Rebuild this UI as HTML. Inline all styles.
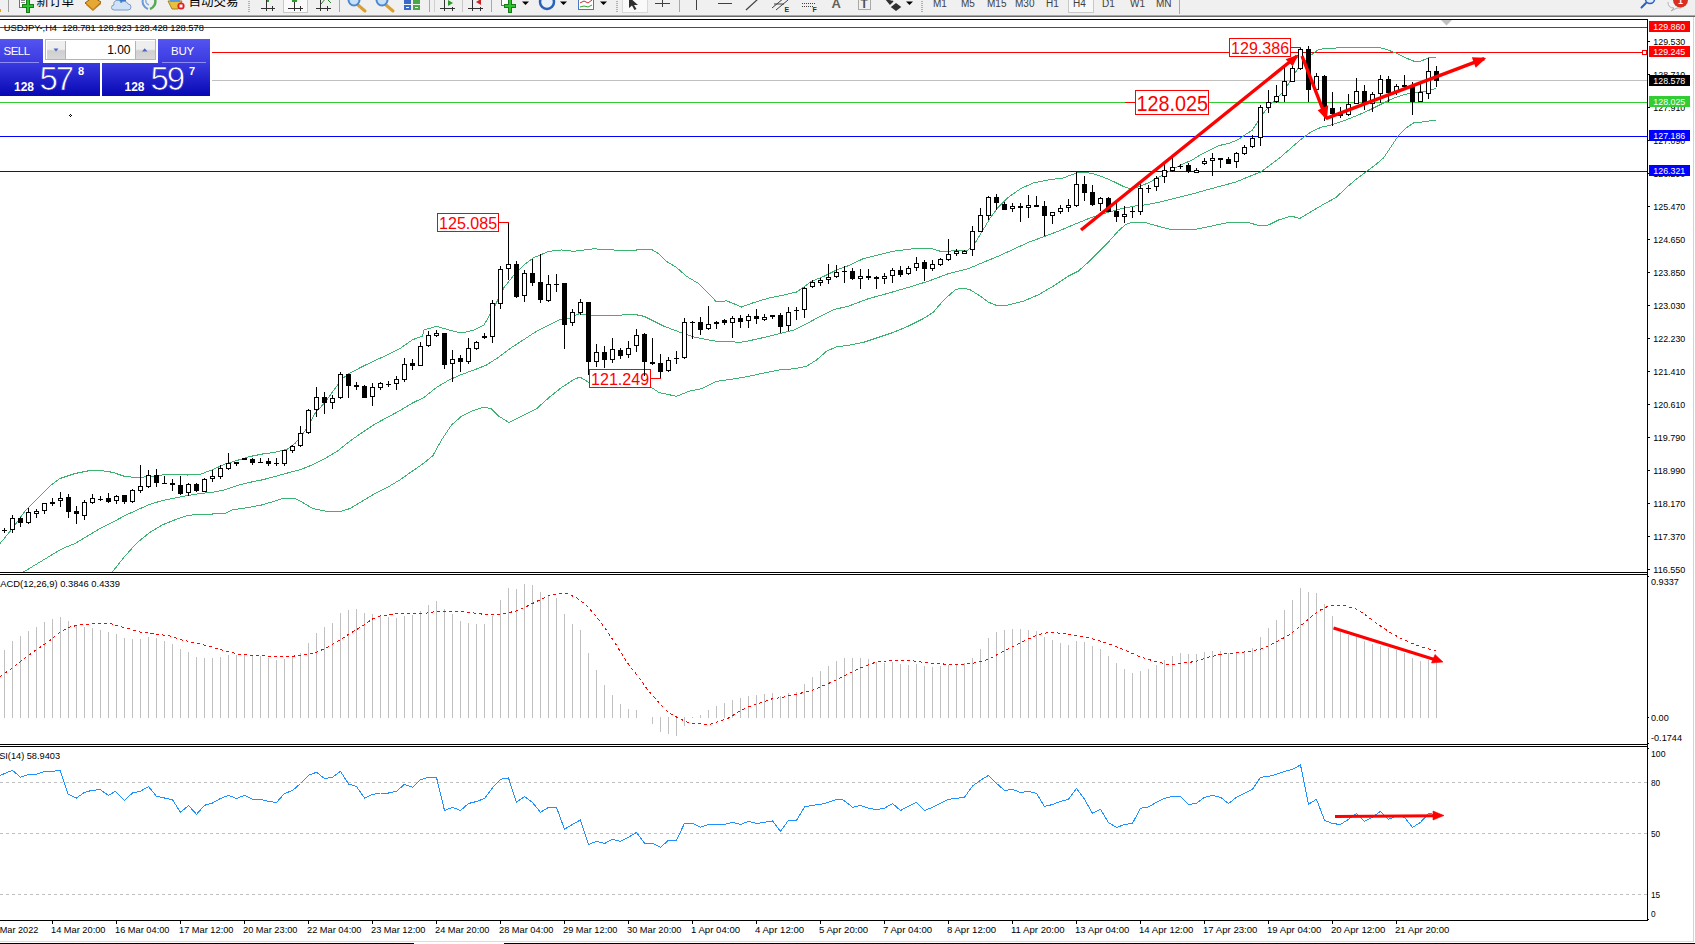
<!DOCTYPE html>
<html><head><meta charset="utf-8"><title>USDJPY H4</title>
<style>
html,body{margin:0;padding:0;background:#fff;}
body{width:1695px;height:944px;overflow:hidden;position:relative;font-family:"Liberation Sans","Noto Sans CJK SC",sans-serif;}
#chart{position:absolute;left:0;top:0;}
#tb{position:absolute;left:0;top:0;width:1695px;height:15px;background:#f0f0f0;overflow:hidden;}
#tbl1{position:absolute;left:0;top:15px;width:1695px;height:1px;background:#a8a8a8;}
#tbl2{position:absolute;left:0;top:16px;width:1695px;height:1px;background:#686868;}
</style></head><body>
<svg id="chart" width="1695" height="944" viewBox="0 0 1695 944">
<rect x="0" y="27" width="1647" height="1" fill="#ff0000"/>
<rect x="0" y="52" width="1647" height="1" fill="#ff0000"/>
<rect x="0" y="80" width="1647" height="1" fill="#c0c0c0"/>
<rect x="0" y="102" width="1647" height="1" fill="#32cd32"/>
<rect x="0" y="136" width="1647" height="1" fill="#0000ff"/>
<rect x="0" y="171" width="1647" height="1" fill="#0000ff"/>
<clipPath id="mc"><rect x="0" y="20" width="1647" height="552"/></clipPath>
<g shape-rendering="crispEdges" clip-path="url(#mc)">
<polyline points="0.0,543.5 12.5,528.5 25.0,511.0 37.5,498.5 50.0,486.0 60.0,478.5 75.0,473.5 87.5,471.0 100.0,470.5 112.5,472.3 125.0,476.5 137.5,477.5 150.0,476.5 162.5,475.0 175.0,474.3 187.5,475.0 200.0,474.3 212.5,469.8 225.0,464.0 237.5,460.3 250.0,456.5 262.5,454.0 275.0,452.3 287.5,449.0 295.0,443.5 305.0,431.0 315.0,413.5 325.0,402.3 335.0,388.5 342.5,378.5 350.0,373.0 362.5,366.5 375.0,360.5 387.5,354.8 400.0,348.5 412.5,339.8 422.5,336.0 424.0,330.0 436.5,326.3 449.0,330.0 461.5,333.0 474.0,330.0 484.0,325.0 494.0,307.5 504.0,287.5 514.0,275.0 524.0,265.0 534.0,257.5 549.0,251.3 561.5,250.0 574.0,251.3 594.0,248.8 614.0,250.0 636.5,250.0 651.5,249.5 659.0,253.8 666.5,261.3 676.5,267.5 686.5,276.3 699.0,283.8 709.0,293.8 716.5,302.0 726.5,300.8 734.0,303.8 741.5,307.0 754.0,302.5 769.0,298.0 784.0,295.0 796.5,292.0 804.0,287.0 811.5,281.3 824.0,276.3 836.5,270.0 848.0,265.8 863.0,258.8 878.0,255.0 893.0,251.3 913.0,248.8 930.5,248.3 940.5,251.3 958.0,250.8 968.0,250.0 975.5,242.5 983.0,230.0 990.5,217.5 998.0,207.5 1008.0,197.5 1020.5,188.8 1033.0,183.0 1048.0,180.0 1063.0,178.0 1075.5,173.3 1083.0,172.0 1093.0,173.8 1103.0,177.0 1113.0,181.3 1123.0,186.3 1130.5,188.8 1138.0,187.0 1148.0,183.0 1163.0,175.0 1178.0,166.3 1193.0,159.5 1200.0,155.0 1209.0,150.5 1219.0,145.6 1230.0,143.0 1238.6,139.4 1246.0,134.2 1252.0,130.5 1255.6,125.3 1259.3,118.6 1263.8,112.7 1271.2,103.8 1278.6,96.4 1284.5,90.4 1289.0,83.0 1293.4,75.6 1298.0,68.2 1303.8,62.2 1309.7,56.3 1314.2,52.6 1318.6,49.6 1324.6,48.5 1336.0,48.0 1351.0,47.3 1366.0,48.0 1378.5,47.3 1386.0,49.3 1396.0,53.0 1406.0,58.0 1413.5,61.0 1421.0,61.0 1428.5,58.0 1436.0,57.3" fill="none" stroke="#3cb371" stroke-width="1" />
<polyline points="0.0,585.0 23.8,571.8 37.5,563.5 50.0,556.0 62.5,548.5 75.0,543.5 87.5,536.0 100.0,528.5 112.5,522.3 125.0,515.5 137.5,509.8 150.0,504.3 162.5,500.5 175.0,498.0 187.5,495.5 200.0,493.5 212.5,492.3 225.0,489.8 237.5,485.5 250.0,482.3 262.5,479.8 275.0,476.5 287.5,473.0 300.0,469.8 312.5,464.8 325.0,458.5 337.5,451.0 350.0,441.0 362.5,432.3 375.0,424.0 387.5,417.3 400.0,410.5 412.5,403.0 424.0,397.4 436.5,387.5 449.0,380.0 461.5,374.5 474.0,370.0 486.5,365.0 499.0,357.0 511.5,347.5 524.0,339.5 536.5,331.3 549.0,325.0 559.0,320.0 569.0,318.3 579.0,313.8 589.0,315.0 599.0,315.8 614.0,315.5 634.0,314.3 644.0,316.3 654.0,321.3 664.0,326.3 674.0,330.0 684.0,333.8 694.0,337.0 706.5,339.5 716.5,341.3 729.0,341.3 739.0,342.5 749.0,340.8 761.5,338.0 779.0,333.8 794.0,330.0 806.5,323.8 819.0,317.0 834.0,309.5 848.0,306.3 868.0,298.8 888.0,293.3 908.0,287.5 928.0,281.3 948.0,273.8 968.0,268.8 983.0,262.5 998.0,256.3 1013.0,249.5 1028.0,242.5 1043.0,237.0 1058.0,231.3 1073.0,225.0 1088.0,218.8 1103.0,213.8 1118.0,209.5 1133.0,206.3 1148.0,204.5 1163.0,201.3 1178.0,197.5 1193.0,193.8 1208.0,189.5 1223.0,185.5 1236.0,182.0 1248.5,176.8 1261.0,171.8 1271.0,164.3 1281.0,156.8 1291.0,148.0 1301.0,139.3 1311.0,131.8 1321.0,127.3 1331.0,125.0 1341.0,121.8 1351.0,118.0 1361.0,113.8 1371.0,109.3 1381.0,104.3 1391.0,99.3 1401.0,95.5 1411.0,93.0 1421.0,91.8 1428.5,90.5 1436.0,88.5" fill="none" stroke="#3cb371" stroke-width="1" />
<polyline points="104.0,585.0 112.5,571.8 125.0,556.0 137.5,542.3 150.0,532.3 162.5,524.8 175.0,519.8 187.5,515.5 200.0,514.0 212.5,514.0 225.0,513.5 232.5,509.8 250.0,507.3 262.5,504.8 275.0,501.0 282.5,498.5 295.0,498.5 302.5,502.3 312.5,508.5 325.0,511.0 340.0,511.8 350.0,508.5 362.5,501.0 375.0,493.5 387.5,487.3 400.0,479.8 412.5,471.0 424.0,463.0 432.8,455.8 441.5,440.0 451.5,425.0 461.5,416.3 471.5,411.3 484.0,407.0 491.5,408.8 499.0,416.3 509.0,422.5 524.0,415.0 536.5,408.8 549.0,397.5 561.5,387.5 574.0,379.5 580.0,377.0 589.0,382.5 600.0,384.0 625.0,386.0 651.5,387.5 659.0,392.5 676.5,396.3 689.0,391.3 701.5,388.8 716.5,381.3 734.0,378.8 749.0,376.3 764.0,373.0 779.0,370.0 794.0,368.8 806.5,366.3 816.5,360.0 826.5,351.3 836.5,346.8 848.0,345.4 863.0,342.5 878.0,337.5 893.0,332.5 908.0,326.3 923.0,318.8 933.0,312.5 940.5,303.8 948.0,296.3 955.5,289.5 963.0,288.0 970.5,290.0 980.5,296.3 988.0,302.0 995.5,305.0 1008.0,305.0 1023.0,301.3 1038.0,295.0 1053.0,286.3 1068.0,276.3 1078.0,271.3 1088.0,262.5 1098.0,252.5 1108.0,242.5 1118.0,231.3 1125.5,224.5 1133.0,222.0 1143.0,222.0 1155.5,225.5 1170.5,229.3 1195.5,229.3 1210.5,226.3 1228.0,222.5 1236.0,222.7 1248.5,222.5 1258.5,225.5 1268.5,225.0 1278.5,220.0 1291.0,216.0 1299.8,218.5 1311.0,211.8 1323.5,204.3 1336.0,197.5 1346.0,188.0 1356.0,179.3 1366.0,171.8 1376.0,164.3 1383.5,158.0 1391.0,146.8 1398.5,135.5 1406.0,128.0 1413.5,123.0 1423.5,121.8 1436.0,120.0" fill="none" stroke="#3cb371" stroke-width="1" />
</g>
<g shape-rendering="crispEdges">
<rect x="4" y="528" width="1" height="5" fill="#000"/>
<rect x="2" y="530" width="5" height="1" fill="#000"/>
<rect x="12" y="515" width="1" height="18" fill="#000"/>
<rect x="10" y="518" width="5" height="12" fill="#000"/>
<rect x="11" y="519" width="3" height="10" fill="#fff"/>
<rect x="20" y="517" width="1" height="10" fill="#000"/>
<rect x="18" y="518" width="5" height="5" fill="#000"/>
<rect x="28" y="508" width="1" height="16" fill="#000"/>
<rect x="26" y="512" width="5" height="11" fill="#000"/>
<rect x="27" y="513" width="3" height="9" fill="#fff"/>
<rect x="36" y="509" width="1" height="9" fill="#000"/>
<rect x="34" y="511" width="5" height="3" fill="#000"/>
<rect x="35" y="512" width="3" height="1" fill="#fff"/>
<rect x="44" y="503" width="1" height="11" fill="#000"/>
<rect x="42" y="503" width="5" height="8" fill="#000"/>
<rect x="43" y="504" width="3" height="6" fill="#fff"/>
<rect x="52" y="498" width="1" height="8" fill="#000"/>
<rect x="50" y="502" width="5" height="2" fill="#000"/>
<rect x="60" y="492" width="1" height="15" fill="#000"/>
<rect x="58" y="498" width="5" height="3" fill="#000"/>
<rect x="59" y="499" width="3" height="1" fill="#fff"/>
<rect x="68" y="494" width="1" height="24" fill="#000"/>
<rect x="66" y="497" width="5" height="15" fill="#000"/>
<rect x="76" y="506" width="1" height="18" fill="#000"/>
<rect x="74" y="511" width="5" height="3" fill="#000"/>
<rect x="84" y="500" width="1" height="20" fill="#000"/>
<rect x="82" y="502" width="5" height="14" fill="#000"/>
<rect x="83" y="503" width="3" height="12" fill="#fff"/>
<rect x="92" y="494" width="1" height="10" fill="#000"/>
<rect x="90" y="498" width="5" height="5" fill="#000"/>
<rect x="91" y="499" width="3" height="3" fill="#fff"/>
<rect x="100" y="496" width="1" height="5" fill="#000"/>
<rect x="98" y="499" width="5" height="1" fill="#000"/>
<rect x="108" y="493" width="1" height="10" fill="#000"/>
<rect x="106" y="498" width="5" height="4" fill="#000"/>
<rect x="116" y="495" width="1" height="9" fill="#000"/>
<rect x="114" y="496" width="5" height="5" fill="#000"/>
<rect x="115" y="497" width="3" height="3" fill="#fff"/>
<rect x="124" y="495" width="1" height="9" fill="#000"/>
<rect x="122" y="495" width="5" height="7" fill="#000"/>
<rect x="132" y="489" width="1" height="14" fill="#000"/>
<rect x="130" y="490" width="5" height="12" fill="#000"/>
<rect x="131" y="491" width="3" height="10" fill="#fff"/>
<rect x="140" y="465" width="1" height="28" fill="#000"/>
<rect x="138" y="486" width="5" height="5" fill="#000"/>
<rect x="139" y="487" width="3" height="3" fill="#fff"/>
<rect x="148" y="470" width="1" height="18" fill="#000"/>
<rect x="146" y="475" width="5" height="12" fill="#000"/>
<rect x="147" y="476" width="3" height="10" fill="#fff"/>
<rect x="156" y="469" width="1" height="18" fill="#000"/>
<rect x="154" y="475" width="5" height="8" fill="#000"/>
<rect x="164" y="476" width="1" height="8" fill="#000"/>
<rect x="162" y="483" width="5" height="1" fill="#000"/>
<rect x="172" y="479" width="1" height="12" fill="#000"/>
<rect x="170" y="483" width="5" height="2" fill="#000"/>
<rect x="180" y="476" width="1" height="19" fill="#000"/>
<rect x="178" y="485" width="5" height="9" fill="#000"/>
<rect x="188" y="483" width="1" height="13" fill="#000"/>
<rect x="186" y="484" width="5" height="9" fill="#000"/>
<rect x="187" y="485" width="3" height="7" fill="#fff"/>
<rect x="196" y="483" width="1" height="9" fill="#000"/>
<rect x="194" y="484" width="5" height="7" fill="#000"/>
<rect x="204" y="478" width="1" height="14" fill="#000"/>
<rect x="202" y="479" width="5" height="13" fill="#000"/>
<rect x="203" y="480" width="3" height="11" fill="#fff"/>
<rect x="212" y="470" width="1" height="12" fill="#000"/>
<rect x="210" y="476" width="5" height="3" fill="#000"/>
<rect x="211" y="477" width="3" height="1" fill="#fff"/>
<rect x="220" y="465" width="1" height="14" fill="#000"/>
<rect x="218" y="468" width="5" height="9" fill="#000"/>
<rect x="219" y="469" width="3" height="7" fill="#fff"/>
<rect x="228" y="453" width="1" height="17" fill="#000"/>
<rect x="226" y="463" width="5" height="6" fill="#000"/>
<rect x="227" y="464" width="3" height="4" fill="#fff"/>
<rect x="236" y="462" width="1" height="4" fill="#000"/>
<rect x="234" y="462" width="5" height="2" fill="#000"/>
<rect x="244" y="458" width="1" height="2" fill="#000"/>
<rect x="242" y="458" width="5" height="2" fill="#000"/>
<rect x="252" y="458" width="1" height="7" fill="#000"/>
<rect x="250" y="459" width="5" height="4" fill="#000"/>
<rect x="260" y="458" width="1" height="5" fill="#000"/>
<rect x="258" y="462" width="5" height="1" fill="#000"/>
<rect x="268" y="458" width="1" height="8" fill="#000"/>
<rect x="266" y="461" width="5" height="3" fill="#000"/>
<rect x="276" y="458" width="1" height="8" fill="#000"/>
<rect x="274" y="463" width="5" height="1" fill="#000"/>
<rect x="284" y="450" width="1" height="16" fill="#000"/>
<rect x="282" y="450" width="5" height="14" fill="#000"/>
<rect x="283" y="451" width="3" height="12" fill="#fff"/>
<rect x="292" y="445" width="1" height="8" fill="#000"/>
<rect x="290" y="446" width="5" height="5" fill="#000"/>
<rect x="291" y="447" width="3" height="3" fill="#fff"/>
<rect x="300" y="426" width="1" height="21" fill="#000"/>
<rect x="298" y="433" width="5" height="13" fill="#000"/>
<rect x="299" y="434" width="3" height="11" fill="#fff"/>
<rect x="308" y="409" width="1" height="25" fill="#000"/>
<rect x="306" y="410" width="5" height="23" fill="#000"/>
<rect x="307" y="411" width="3" height="21" fill="#fff"/>
<rect x="316" y="387" width="1" height="30" fill="#000"/>
<rect x="314" y="397" width="5" height="13" fill="#000"/>
<rect x="315" y="398" width="3" height="11" fill="#fff"/>
<rect x="324" y="392" width="1" height="22" fill="#000"/>
<rect x="322" y="397" width="5" height="6" fill="#000"/>
<rect x="332" y="395" width="1" height="14" fill="#000"/>
<rect x="330" y="398" width="5" height="5" fill="#000"/>
<rect x="331" y="399" width="3" height="3" fill="#fff"/>
<rect x="340" y="372" width="1" height="27" fill="#000"/>
<rect x="338" y="374" width="5" height="24" fill="#000"/>
<rect x="339" y="375" width="3" height="22" fill="#fff"/>
<rect x="348" y="374" width="1" height="24" fill="#000"/>
<rect x="346" y="374" width="5" height="12" fill="#000"/>
<rect x="356" y="382" width="1" height="8" fill="#000"/>
<rect x="354" y="385" width="5" height="2" fill="#000"/>
<rect x="364" y="385" width="1" height="13" fill="#000"/>
<rect x="362" y="386" width="5" height="12" fill="#000"/>
<rect x="372" y="383" width="1" height="23" fill="#000"/>
<rect x="370" y="387" width="5" height="10" fill="#000"/>
<rect x="371" y="388" width="3" height="8" fill="#fff"/>
<rect x="380" y="382" width="1" height="8" fill="#000"/>
<rect x="378" y="383" width="5" height="5" fill="#000"/>
<rect x="379" y="384" width="3" height="3" fill="#fff"/>
<rect x="388" y="381" width="1" height="6" fill="#000"/>
<rect x="386" y="384" width="5" height="1" fill="#000"/>
<rect x="396" y="376" width="1" height="14" fill="#000"/>
<rect x="394" y="379" width="5" height="5" fill="#000"/>
<rect x="395" y="380" width="3" height="3" fill="#fff"/>
<rect x="404" y="358" width="1" height="24" fill="#000"/>
<rect x="402" y="364" width="5" height="16" fill="#000"/>
<rect x="403" y="365" width="3" height="14" fill="#fff"/>
<rect x="412" y="359" width="1" height="11" fill="#000"/>
<rect x="410" y="363" width="5" height="3" fill="#000"/>
<rect x="420" y="342" width="1" height="24" fill="#000"/>
<rect x="418" y="346" width="5" height="20" fill="#000"/>
<rect x="419" y="347" width="3" height="18" fill="#fff"/>
<rect x="428" y="331" width="1" height="16" fill="#000"/>
<rect x="426" y="335" width="5" height="11" fill="#000"/>
<rect x="427" y="336" width="3" height="9" fill="#fff"/>
<rect x="436" y="330" width="1" height="7" fill="#000"/>
<rect x="434" y="333" width="5" height="3" fill="#000"/>
<rect x="435" y="334" width="3" height="1" fill="#fff"/>
<rect x="444" y="333" width="1" height="36" fill="#000"/>
<rect x="442" y="333" width="5" height="32" fill="#000"/>
<rect x="452" y="350" width="1" height="32" fill="#000"/>
<rect x="450" y="359" width="5" height="5" fill="#000"/>
<rect x="451" y="360" width="3" height="3" fill="#fff"/>
<rect x="460" y="355" width="1" height="17" fill="#000"/>
<rect x="458" y="358" width="5" height="4" fill="#000"/>
<rect x="468" y="338" width="1" height="26" fill="#000"/>
<rect x="466" y="348" width="5" height="14" fill="#000"/>
<rect x="467" y="349" width="3" height="12" fill="#fff"/>
<rect x="476" y="341" width="1" height="9" fill="#000"/>
<rect x="474" y="342" width="5" height="7" fill="#000"/>
<rect x="475" y="343" width="3" height="5" fill="#fff"/>
<rect x="484" y="333" width="1" height="6" fill="#000"/>
<rect x="482" y="336" width="5" height="2" fill="#000"/>
<rect x="492" y="300" width="1" height="43" fill="#000"/>
<rect x="490" y="303" width="5" height="34" fill="#000"/>
<rect x="491" y="304" width="3" height="32" fill="#fff"/>
<rect x="500" y="266" width="1" height="43" fill="#000"/>
<rect x="498" y="269" width="5" height="35" fill="#000"/>
<rect x="499" y="270" width="3" height="33" fill="#fff"/>
<rect x="508" y="222" width="1" height="58" fill="#000"/>
<rect x="506" y="264" width="5" height="5" fill="#000"/>
<rect x="507" y="265" width="3" height="3" fill="#fff"/>
<rect x="516" y="261" width="1" height="37" fill="#000"/>
<rect x="514" y="264" width="5" height="33" fill="#000"/>
<rect x="524" y="270" width="1" height="32" fill="#000"/>
<rect x="522" y="273" width="5" height="23" fill="#000"/>
<rect x="523" y="274" width="3" height="21" fill="#fff"/>
<rect x="532" y="259" width="1" height="27" fill="#000"/>
<rect x="530" y="273" width="5" height="10" fill="#000"/>
<rect x="540" y="254" width="1" height="49" fill="#000"/>
<rect x="538" y="282" width="5" height="18" fill="#000"/>
<rect x="548" y="275" width="1" height="27" fill="#000"/>
<rect x="546" y="284" width="5" height="17" fill="#000"/>
<rect x="547" y="285" width="3" height="15" fill="#fff"/>
<rect x="556" y="274" width="1" height="18" fill="#000"/>
<rect x="554" y="284" width="5" height="1" fill="#000"/>
<rect x="564" y="283" width="1" height="66" fill="#000"/>
<rect x="562" y="283" width="5" height="42" fill="#000"/>
<rect x="572" y="309" width="1" height="17" fill="#000"/>
<rect x="570" y="312" width="5" height="11" fill="#000"/>
<rect x="571" y="313" width="3" height="9" fill="#fff"/>
<rect x="580" y="299" width="1" height="16" fill="#000"/>
<rect x="578" y="302" width="5" height="11" fill="#000"/>
<rect x="579" y="303" width="3" height="9" fill="#fff"/>
<rect x="588" y="302" width="1" height="73" fill="#000"/>
<rect x="586" y="302" width="5" height="60" fill="#000"/>
<rect x="596" y="344" width="1" height="23" fill="#000"/>
<rect x="594" y="352" width="5" height="10" fill="#000"/>
<rect x="595" y="353" width="3" height="8" fill="#fff"/>
<rect x="604" y="346" width="1" height="22" fill="#000"/>
<rect x="602" y="352" width="5" height="8" fill="#000"/>
<rect x="612" y="338" width="1" height="25" fill="#000"/>
<rect x="610" y="349" width="5" height="11" fill="#000"/>
<rect x="611" y="350" width="3" height="9" fill="#fff"/>
<rect x="620" y="348" width="1" height="11" fill="#000"/>
<rect x="618" y="350" width="5" height="6" fill="#000"/>
<rect x="628" y="341" width="1" height="17" fill="#000"/>
<rect x="626" y="348" width="5" height="7" fill="#000"/>
<rect x="627" y="349" width="3" height="5" fill="#fff"/>
<rect x="636" y="329" width="1" height="23" fill="#000"/>
<rect x="634" y="335" width="5" height="11" fill="#000"/>
<rect x="635" y="336" width="3" height="9" fill="#fff"/>
<rect x="644" y="333" width="1" height="43" fill="#000"/>
<rect x="642" y="334" width="5" height="28" fill="#000"/>
<rect x="652" y="338" width="1" height="27" fill="#000"/>
<rect x="650" y="362" width="5" height="2" fill="#000"/>
<rect x="660" y="354" width="1" height="24" fill="#000"/>
<rect x="658" y="363" width="5" height="9" fill="#000"/>
<rect x="668" y="357" width="1" height="15" fill="#000"/>
<rect x="666" y="360" width="5" height="11" fill="#000"/>
<rect x="667" y="361" width="3" height="9" fill="#fff"/>
<rect x="676" y="351" width="1" height="13" fill="#000"/>
<rect x="674" y="358" width="5" height="1" fill="#000"/>
<rect x="684" y="318" width="1" height="41" fill="#000"/>
<rect x="682" y="322" width="5" height="36" fill="#000"/>
<rect x="683" y="323" width="3" height="34" fill="#fff"/>
<rect x="692" y="321" width="1" height="18" fill="#000"/>
<rect x="690" y="322" width="5" height="1" fill="#000"/>
<rect x="700" y="317" width="1" height="18" fill="#000"/>
<rect x="698" y="322" width="5" height="8" fill="#000"/>
<rect x="708" y="306" width="1" height="24" fill="#000"/>
<rect x="706" y="324" width="5" height="5" fill="#000"/>
<rect x="707" y="325" width="3" height="3" fill="#fff"/>
<rect x="716" y="321" width="1" height="8" fill="#000"/>
<rect x="714" y="322" width="5" height="2" fill="#000"/>
<rect x="724" y="319" width="1" height="6" fill="#000"/>
<rect x="722" y="320" width="5" height="3" fill="#000"/>
<rect x="732" y="316" width="1" height="22" fill="#000"/>
<rect x="730" y="318" width="5" height="5" fill="#000"/>
<rect x="731" y="319" width="3" height="3" fill="#fff"/>
<rect x="740" y="315" width="1" height="13" fill="#000"/>
<rect x="738" y="318" width="5" height="4" fill="#000"/>
<rect x="748" y="314" width="1" height="14" fill="#000"/>
<rect x="746" y="316" width="5" height="5" fill="#000"/>
<rect x="747" y="317" width="3" height="3" fill="#fff"/>
<rect x="756" y="309" width="1" height="15" fill="#000"/>
<rect x="754" y="316" width="5" height="3" fill="#000"/>
<rect x="764" y="314" width="1" height="7" fill="#000"/>
<rect x="762" y="317" width="5" height="3" fill="#000"/>
<rect x="763" y="318" width="3" height="1" fill="#fff"/>
<rect x="772" y="315" width="1" height="4" fill="#000"/>
<rect x="770" y="315" width="5" height="2" fill="#000"/>
<rect x="780" y="313" width="1" height="20" fill="#000"/>
<rect x="778" y="315" width="5" height="12" fill="#000"/>
<rect x="788" y="307" width="1" height="24" fill="#000"/>
<rect x="786" y="312" width="5" height="14" fill="#000"/>
<rect x="787" y="313" width="3" height="12" fill="#fff"/>
<rect x="796" y="307" width="1" height="13" fill="#000"/>
<rect x="794" y="310" width="5" height="1" fill="#000"/>
<rect x="804" y="287" width="1" height="31" fill="#000"/>
<rect x="802" y="288" width="5" height="22" fill="#000"/>
<rect x="803" y="289" width="3" height="20" fill="#fff"/>
<rect x="812" y="280" width="1" height="8" fill="#000"/>
<rect x="810" y="282" width="5" height="5" fill="#000"/>
<rect x="811" y="283" width="3" height="3" fill="#fff"/>
<rect x="820" y="278" width="1" height="8" fill="#000"/>
<rect x="818" y="280" width="5" height="3" fill="#000"/>
<rect x="819" y="281" width="3" height="1" fill="#fff"/>
<rect x="828" y="264" width="1" height="20" fill="#000"/>
<rect x="826" y="277" width="5" height="3" fill="#000"/>
<rect x="827" y="278" width="3" height="1" fill="#fff"/>
<rect x="836" y="265" width="1" height="13" fill="#000"/>
<rect x="834" y="272" width="5" height="5" fill="#000"/>
<rect x="835" y="273" width="3" height="3" fill="#fff"/>
<rect x="844" y="266" width="1" height="17" fill="#000"/>
<rect x="842" y="271" width="5" height="1" fill="#000"/>
<rect x="852" y="268" width="1" height="12" fill="#000"/>
<rect x="850" y="271" width="5" height="8" fill="#000"/>
<rect x="860" y="269" width="1" height="20" fill="#000"/>
<rect x="858" y="276" width="5" height="3" fill="#000"/>
<rect x="859" y="277" width="3" height="1" fill="#fff"/>
<rect x="868" y="269" width="1" height="11" fill="#000"/>
<rect x="866" y="276" width="5" height="2" fill="#000"/>
<rect x="876" y="276" width="1" height="13" fill="#000"/>
<rect x="874" y="277" width="5" height="2" fill="#000"/>
<rect x="884" y="273" width="1" height="11" fill="#000"/>
<rect x="882" y="276" width="5" height="3" fill="#000"/>
<rect x="883" y="277" width="3" height="1" fill="#fff"/>
<rect x="892" y="268" width="1" height="15" fill="#000"/>
<rect x="890" y="270" width="5" height="6" fill="#000"/>
<rect x="891" y="271" width="3" height="4" fill="#fff"/>
<rect x="900" y="266" width="1" height="11" fill="#000"/>
<rect x="898" y="270" width="5" height="5" fill="#000"/>
<rect x="908" y="266" width="1" height="9" fill="#000"/>
<rect x="906" y="268" width="5" height="6" fill="#000"/>
<rect x="907" y="269" width="3" height="4" fill="#fff"/>
<rect x="916" y="257" width="1" height="14" fill="#000"/>
<rect x="914" y="263" width="5" height="5" fill="#000"/>
<rect x="915" y="264" width="3" height="3" fill="#fff"/>
<rect x="924" y="260" width="1" height="21" fill="#000"/>
<rect x="922" y="262" width="5" height="7" fill="#000"/>
<rect x="932" y="260" width="1" height="11" fill="#000"/>
<rect x="930" y="264" width="5" height="5" fill="#000"/>
<rect x="931" y="265" width="3" height="3" fill="#fff"/>
<rect x="940" y="258" width="1" height="8" fill="#000"/>
<rect x="938" y="259" width="5" height="6" fill="#000"/>
<rect x="939" y="260" width="3" height="4" fill="#fff"/>
<rect x="948" y="239" width="1" height="22" fill="#000"/>
<rect x="946" y="254" width="5" height="6" fill="#000"/>
<rect x="947" y="255" width="3" height="4" fill="#fff"/>
<rect x="956" y="249" width="1" height="7" fill="#000"/>
<rect x="954" y="251" width="5" height="3" fill="#000"/>
<rect x="955" y="252" width="3" height="1" fill="#fff"/>
<rect x="964" y="250" width="1" height="3" fill="#000"/>
<rect x="962" y="251" width="5" height="3" fill="#000"/>
<rect x="963" y="252" width="3" height="1" fill="#fff"/>
<rect x="972" y="226" width="1" height="30" fill="#000"/>
<rect x="970" y="231" width="5" height="19" fill="#000"/>
<rect x="971" y="232" width="3" height="17" fill="#fff"/>
<rect x="980" y="208" width="1" height="24" fill="#000"/>
<rect x="978" y="215" width="5" height="17" fill="#000"/>
<rect x="979" y="216" width="3" height="15" fill="#fff"/>
<rect x="988" y="196" width="1" height="24" fill="#000"/>
<rect x="986" y="197" width="5" height="19" fill="#000"/>
<rect x="987" y="198" width="3" height="17" fill="#fff"/>
<rect x="996" y="194" width="1" height="16" fill="#000"/>
<rect x="994" y="197" width="5" height="6" fill="#000"/>
<rect x="1004" y="202" width="1" height="8" fill="#000"/>
<rect x="1002" y="204" width="5" height="6" fill="#000"/>
<rect x="1012" y="203" width="1" height="9" fill="#000"/>
<rect x="1010" y="206" width="5" height="3" fill="#000"/>
<rect x="1011" y="207" width="3" height="1" fill="#fff"/>
<rect x="1020" y="203" width="1" height="19" fill="#000"/>
<rect x="1018" y="206" width="5" height="2" fill="#000"/>
<rect x="1028" y="195" width="1" height="23" fill="#000"/>
<rect x="1026" y="205" width="5" height="3" fill="#000"/>
<rect x="1027" y="206" width="3" height="1" fill="#fff"/>
<rect x="1036" y="196" width="1" height="11" fill="#000"/>
<rect x="1034" y="205" width="5" height="2" fill="#000"/>
<rect x="1044" y="201" width="1" height="35" fill="#000"/>
<rect x="1042" y="206" width="5" height="10" fill="#000"/>
<rect x="1052" y="212" width="1" height="12" fill="#000"/>
<rect x="1050" y="212" width="5" height="4" fill="#000"/>
<rect x="1051" y="213" width="3" height="2" fill="#fff"/>
<rect x="1060" y="205" width="1" height="9" fill="#000"/>
<rect x="1058" y="208" width="5" height="4" fill="#000"/>
<rect x="1059" y="209" width="3" height="2" fill="#fff"/>
<rect x="1068" y="199" width="1" height="13" fill="#000"/>
<rect x="1066" y="205" width="5" height="3" fill="#000"/>
<rect x="1067" y="206" width="3" height="1" fill="#fff"/>
<rect x="1076" y="172" width="1" height="35" fill="#000"/>
<rect x="1074" y="184" width="5" height="22" fill="#000"/>
<rect x="1075" y="185" width="3" height="20" fill="#fff"/>
<rect x="1084" y="176" width="1" height="25" fill="#000"/>
<rect x="1082" y="184" width="5" height="9" fill="#000"/>
<rect x="1092" y="185" width="1" height="21" fill="#000"/>
<rect x="1090" y="192" width="5" height="13" fill="#000"/>
<rect x="1100" y="197" width="1" height="14" fill="#000"/>
<rect x="1098" y="198" width="5" height="6" fill="#000"/>
<rect x="1099" y="199" width="3" height="4" fill="#fff"/>
<rect x="1108" y="197" width="1" height="15" fill="#000"/>
<rect x="1106" y="198" width="5" height="14" fill="#000"/>
<rect x="1116" y="202" width="1" height="20" fill="#000"/>
<rect x="1114" y="211" width="5" height="6" fill="#000"/>
<rect x="1124" y="206" width="1" height="17" fill="#000"/>
<rect x="1122" y="214" width="5" height="3" fill="#000"/>
<rect x="1123" y="215" width="3" height="1" fill="#fff"/>
<rect x="1132" y="207" width="1" height="11" fill="#000"/>
<rect x="1130" y="211" width="5" height="1" fill="#000"/>
<rect x="1140" y="184" width="1" height="31" fill="#000"/>
<rect x="1138" y="188" width="5" height="24" fill="#000"/>
<rect x="1139" y="189" width="3" height="22" fill="#fff"/>
<rect x="1148" y="185" width="1" height="8" fill="#000"/>
<rect x="1146" y="188" width="5" height="1" fill="#000"/>
<rect x="1156" y="176" width="1" height="15" fill="#000"/>
<rect x="1154" y="178" width="5" height="9" fill="#000"/>
<rect x="1155" y="179" width="3" height="7" fill="#fff"/>
<rect x="1164" y="164" width="1" height="19" fill="#000"/>
<rect x="1162" y="170" width="5" height="7" fill="#000"/>
<rect x="1163" y="171" width="3" height="5" fill="#fff"/>
<rect x="1172" y="158" width="1" height="14" fill="#000"/>
<rect x="1170" y="167" width="5" height="4" fill="#000"/>
<rect x="1171" y="168" width="3" height="2" fill="#fff"/>
<rect x="1180" y="164" width="1" height="5" fill="#000"/>
<rect x="1178" y="166" width="5" height="1" fill="#000"/>
<rect x="1188" y="163" width="1" height="10" fill="#000"/>
<rect x="1186" y="165" width="5" height="7" fill="#000"/>
<rect x="1196" y="168" width="1" height="4" fill="#000"/>
<rect x="1194" y="170" width="5" height="3" fill="#000"/>
<rect x="1195" y="171" width="3" height="1" fill="#fff"/>
<rect x="1204" y="158" width="1" height="7" fill="#000"/>
<rect x="1202" y="161" width="5" height="3" fill="#000"/>
<rect x="1203" y="162" width="3" height="1" fill="#fff"/>
<rect x="1212" y="153" width="1" height="23" fill="#000"/>
<rect x="1210" y="158" width="5" height="3" fill="#000"/>
<rect x="1211" y="159" width="3" height="1" fill="#fff"/>
<rect x="1220" y="158" width="1" height="10" fill="#000"/>
<rect x="1218" y="158" width="5" height="2" fill="#000"/>
<rect x="1228" y="157" width="1" height="7" fill="#000"/>
<rect x="1226" y="159" width="5" height="5" fill="#000"/>
<rect x="1236" y="152" width="1" height="16" fill="#000"/>
<rect x="1234" y="153" width="5" height="9" fill="#000"/>
<rect x="1235" y="154" width="3" height="7" fill="#fff"/>
<rect x="1244" y="145" width="1" height="10" fill="#000"/>
<rect x="1242" y="147" width="5" height="7" fill="#000"/>
<rect x="1243" y="148" width="3" height="5" fill="#fff"/>
<rect x="1252" y="135" width="1" height="13" fill="#000"/>
<rect x="1250" y="138" width="5" height="9" fill="#000"/>
<rect x="1251" y="139" width="3" height="7" fill="#fff"/>
<rect x="1260" y="105" width="1" height="41" fill="#000"/>
<rect x="1258" y="107" width="5" height="31" fill="#000"/>
<rect x="1259" y="108" width="3" height="29" fill="#fff"/>
<rect x="1268" y="90" width="1" height="23" fill="#000"/>
<rect x="1266" y="102" width="5" height="6" fill="#000"/>
<rect x="1267" y="103" width="3" height="4" fill="#fff"/>
<rect x="1276" y="85" width="1" height="18" fill="#000"/>
<rect x="1274" y="96" width="5" height="6" fill="#000"/>
<rect x="1275" y="97" width="3" height="4" fill="#fff"/>
<rect x="1284" y="67" width="1" height="35" fill="#000"/>
<rect x="1282" y="81" width="5" height="15" fill="#000"/>
<rect x="1283" y="82" width="3" height="13" fill="#fff"/>
<rect x="1292" y="66" width="1" height="16" fill="#000"/>
<rect x="1290" y="68" width="5" height="14" fill="#000"/>
<rect x="1291" y="69" width="3" height="12" fill="#fff"/>
<rect x="1300" y="47" width="1" height="23" fill="#000"/>
<rect x="1298" y="49" width="5" height="20" fill="#000"/>
<rect x="1299" y="50" width="3" height="18" fill="#fff"/>
<rect x="1308" y="46" width="1" height="56" fill="#000"/>
<rect x="1306" y="49" width="5" height="41" fill="#000"/>
<rect x="1316" y="73" width="1" height="17" fill="#000"/>
<rect x="1314" y="76" width="5" height="14" fill="#000"/>
<rect x="1315" y="77" width="3" height="12" fill="#fff"/>
<rect x="1324" y="75" width="1" height="46" fill="#000"/>
<rect x="1322" y="76" width="5" height="37" fill="#000"/>
<rect x="1332" y="92" width="1" height="34" fill="#000"/>
<rect x="1330" y="108" width="5" height="6" fill="#000"/>
<rect x="1340" y="107" width="1" height="11" fill="#000"/>
<rect x="1338" y="114" width="5" height="2" fill="#000"/>
<rect x="1348" y="94" width="1" height="22" fill="#000"/>
<rect x="1346" y="104" width="5" height="11" fill="#000"/>
<rect x="1347" y="105" width="3" height="9" fill="#fff"/>
<rect x="1356" y="78" width="1" height="26" fill="#000"/>
<rect x="1354" y="91" width="5" height="13" fill="#000"/>
<rect x="1355" y="92" width="3" height="11" fill="#fff"/>
<rect x="1364" y="85" width="1" height="25" fill="#000"/>
<rect x="1362" y="91" width="5" height="12" fill="#000"/>
<rect x="1372" y="92" width="1" height="20" fill="#000"/>
<rect x="1370" y="94" width="5" height="10" fill="#000"/>
<rect x="1371" y="95" width="3" height="8" fill="#fff"/>
<rect x="1380" y="75" width="1" height="28" fill="#000"/>
<rect x="1378" y="79" width="5" height="15" fill="#000"/>
<rect x="1379" y="80" width="3" height="13" fill="#fff"/>
<rect x="1388" y="76" width="1" height="26" fill="#000"/>
<rect x="1386" y="79" width="5" height="14" fill="#000"/>
<rect x="1396" y="84" width="1" height="11" fill="#000"/>
<rect x="1394" y="86" width="5" height="6" fill="#000"/>
<rect x="1395" y="87" width="3" height="4" fill="#fff"/>
<rect x="1404" y="75" width="1" height="15" fill="#000"/>
<rect x="1402" y="85" width="5" height="2" fill="#000"/>
<rect x="1412" y="82" width="1" height="33" fill="#000"/>
<rect x="1410" y="86" width="5" height="16" fill="#000"/>
<rect x="1420" y="84" width="1" height="18" fill="#000"/>
<rect x="1418" y="92" width="5" height="10" fill="#000"/>
<rect x="1419" y="93" width="3" height="8" fill="#fff"/>
<rect x="1428" y="58" width="1" height="41" fill="#000"/>
<rect x="1426" y="71" width="5" height="23" fill="#000"/>
<rect x="1427" y="72" width="3" height="21" fill="#fff"/>
<rect x="1436" y="66" width="1" height="21" fill="#000"/>
<rect x="1434" y="71" width="5" height="10" fill="#000"/>
</g>
<g shape-rendering="crispEdges">
<rect x="4" y="650" width="1" height="68" fill="#c0c0c0"/>
<rect x="12" y="641" width="1" height="77" fill="#c0c0c0"/>
<rect x="20" y="636" width="1" height="82" fill="#c0c0c0"/>
<rect x="28" y="631" width="1" height="87" fill="#c0c0c0"/>
<rect x="36" y="627" width="1" height="91" fill="#c0c0c0"/>
<rect x="44" y="622" width="1" height="96" fill="#c0c0c0"/>
<rect x="52" y="619" width="1" height="99" fill="#c0c0c0"/>
<rect x="60" y="617" width="1" height="101" fill="#c0c0c0"/>
<rect x="68" y="621" width="1" height="97" fill="#c0c0c0"/>
<rect x="76" y="625" width="1" height="93" fill="#c0c0c0"/>
<rect x="84" y="627" width="1" height="91" fill="#c0c0c0"/>
<rect x="92" y="628" width="1" height="90" fill="#c0c0c0"/>
<rect x="100" y="630" width="1" height="88" fill="#c0c0c0"/>
<rect x="108" y="632" width="1" height="86" fill="#c0c0c0"/>
<rect x="116" y="634" width="1" height="84" fill="#c0c0c0"/>
<rect x="124" y="638" width="1" height="80" fill="#c0c0c0"/>
<rect x="132" y="639" width="1" height="79" fill="#c0c0c0"/>
<rect x="140" y="639" width="1" height="79" fill="#c0c0c0"/>
<rect x="148" y="637" width="1" height="81" fill="#c0c0c0"/>
<rect x="156" y="638" width="1" height="80" fill="#c0c0c0"/>
<rect x="164" y="641" width="1" height="77" fill="#c0c0c0"/>
<rect x="172" y="644" width="1" height="74" fill="#c0c0c0"/>
<rect x="180" y="649" width="1" height="69" fill="#c0c0c0"/>
<rect x="188" y="652" width="1" height="66" fill="#c0c0c0"/>
<rect x="196" y="657" width="1" height="61" fill="#c0c0c0"/>
<rect x="204" y="658" width="1" height="60" fill="#c0c0c0"/>
<rect x="212" y="658" width="1" height="60" fill="#c0c0c0"/>
<rect x="220" y="657" width="1" height="61" fill="#c0c0c0"/>
<rect x="228" y="655" width="1" height="63" fill="#c0c0c0"/>
<rect x="236" y="655" width="1" height="63" fill="#c0c0c0"/>
<rect x="244" y="654" width="1" height="64" fill="#c0c0c0"/>
<rect x="252" y="656" width="1" height="62" fill="#c0c0c0"/>
<rect x="260" y="656" width="1" height="62" fill="#c0c0c0"/>
<rect x="268" y="658" width="1" height="60" fill="#c0c0c0"/>
<rect x="276" y="660" width="1" height="58" fill="#c0c0c0"/>
<rect x="284" y="659" width="1" height="59" fill="#c0c0c0"/>
<rect x="292" y="657" width="1" height="61" fill="#c0c0c0"/>
<rect x="300" y="653" width="1" height="65" fill="#c0c0c0"/>
<rect x="308" y="643" width="1" height="75" fill="#c0c0c0"/>
<rect x="316" y="633" width="1" height="85" fill="#c0c0c0"/>
<rect x="324" y="627" width="1" height="91" fill="#c0c0c0"/>
<rect x="332" y="623" width="1" height="95" fill="#c0c0c0"/>
<rect x="340" y="613" width="1" height="105" fill="#c0c0c0"/>
<rect x="348" y="610" width="1" height="108" fill="#c0c0c0"/>
<rect x="356" y="609" width="1" height="109" fill="#c0c0c0"/>
<rect x="364" y="613" width="1" height="105" fill="#c0c0c0"/>
<rect x="372" y="614" width="1" height="104" fill="#c0c0c0"/>
<rect x="380" y="616" width="1" height="102" fill="#c0c0c0"/>
<rect x="388" y="617" width="1" height="101" fill="#c0c0c0"/>
<rect x="396" y="618" width="1" height="100" fill="#c0c0c0"/>
<rect x="404" y="616" width="1" height="102" fill="#c0c0c0"/>
<rect x="412" y="615" width="1" height="103" fill="#c0c0c0"/>
<rect x="420" y="611" width="1" height="107" fill="#c0c0c0"/>
<rect x="428" y="605" width="1" height="113" fill="#c0c0c0"/>
<rect x="436" y="601" width="1" height="117" fill="#c0c0c0"/>
<rect x="444" y="609" width="1" height="109" fill="#c0c0c0"/>
<rect x="452" y="614" width="1" height="104" fill="#c0c0c0"/>
<rect x="460" y="621" width="1" height="97" fill="#c0c0c0"/>
<rect x="468" y="623" width="1" height="95" fill="#c0c0c0"/>
<rect x="476" y="624" width="1" height="94" fill="#c0c0c0"/>
<rect x="484" y="624" width="1" height="94" fill="#c0c0c0"/>
<rect x="492" y="616" width="1" height="102" fill="#c0c0c0"/>
<rect x="500" y="600" width="1" height="118" fill="#c0c0c0"/>
<rect x="508" y="588" width="1" height="130" fill="#c0c0c0"/>
<rect x="516" y="589" width="1" height="129" fill="#c0c0c0"/>
<rect x="524" y="584" width="1" height="134" fill="#c0c0c0"/>
<rect x="532" y="585" width="1" height="133" fill="#c0c0c0"/>
<rect x="540" y="592" width="1" height="126" fill="#c0c0c0"/>
<rect x="548" y="596" width="1" height="122" fill="#c0c0c0"/>
<rect x="556" y="598" width="1" height="120" fill="#c0c0c0"/>
<rect x="564" y="614" width="1" height="104" fill="#c0c0c0"/>
<rect x="572" y="624" width="1" height="94" fill="#c0c0c0"/>
<rect x="580" y="630" width="1" height="88" fill="#c0c0c0"/>
<rect x="588" y="653" width="1" height="65" fill="#c0c0c0"/>
<rect x="596" y="670" width="1" height="48" fill="#c0c0c0"/>
<rect x="604" y="685" width="1" height="33" fill="#c0c0c0"/>
<rect x="612" y="695" width="1" height="23" fill="#c0c0c0"/>
<rect x="620" y="704" width="1" height="14" fill="#c0c0c0"/>
<rect x="628" y="709" width="1" height="9" fill="#c0c0c0"/>
<rect x="636" y="710" width="1" height="8" fill="#c0c0c0"/>
<rect x="652" y="717" width="1" height="7" fill="#c0c0c0"/>
<rect x="660" y="717" width="1" height="15" fill="#c0c0c0"/>
<rect x="668" y="717" width="1" height="17" fill="#c0c0c0"/>
<rect x="676" y="717" width="1" height="19" fill="#c0c0c0"/>
<rect x="684" y="717" width="1" height="9" fill="#c0c0c0"/>
<rect x="692" y="717" width="1" height="1" fill="#c0c0c0"/>
<rect x="700" y="715" width="1" height="3" fill="#c0c0c0"/>
<rect x="708" y="710" width="1" height="8" fill="#c0c0c0"/>
<rect x="716" y="706" width="1" height="12" fill="#c0c0c0"/>
<rect x="724" y="703" width="1" height="15" fill="#c0c0c0"/>
<rect x="732" y="700" width="1" height="18" fill="#c0c0c0"/>
<rect x="740" y="698" width="1" height="20" fill="#c0c0c0"/>
<rect x="748" y="696" width="1" height="22" fill="#c0c0c0"/>
<rect x="756" y="695" width="1" height="23" fill="#c0c0c0"/>
<rect x="764" y="694" width="1" height="24" fill="#c0c0c0"/>
<rect x="772" y="693" width="1" height="25" fill="#c0c0c0"/>
<rect x="780" y="696" width="1" height="22" fill="#c0c0c0"/>
<rect x="788" y="693" width="1" height="25" fill="#c0c0c0"/>
<rect x="796" y="692" width="1" height="26" fill="#c0c0c0"/>
<rect x="804" y="684" width="1" height="34" fill="#c0c0c0"/>
<rect x="812" y="677" width="1" height="41" fill="#c0c0c0"/>
<rect x="820" y="671" width="1" height="47" fill="#c0c0c0"/>
<rect x="828" y="666" width="1" height="52" fill="#c0c0c0"/>
<rect x="836" y="661" width="1" height="57" fill="#c0c0c0"/>
<rect x="844" y="658" width="1" height="60" fill="#c0c0c0"/>
<rect x="852" y="658" width="1" height="60" fill="#c0c0c0"/>
<rect x="860" y="658" width="1" height="60" fill="#c0c0c0"/>
<rect x="868" y="659" width="1" height="59" fill="#c0c0c0"/>
<rect x="876" y="662" width="1" height="56" fill="#c0c0c0"/>
<rect x="884" y="663" width="1" height="55" fill="#c0c0c0"/>
<rect x="892" y="662" width="1" height="56" fill="#c0c0c0"/>
<rect x="900" y="664" width="1" height="54" fill="#c0c0c0"/>
<rect x="908" y="665" width="1" height="53" fill="#c0c0c0"/>
<rect x="916" y="664" width="1" height="54" fill="#c0c0c0"/>
<rect x="924" y="666" width="1" height="52" fill="#c0c0c0"/>
<rect x="932" y="667" width="1" height="51" fill="#c0c0c0"/>
<rect x="940" y="666" width="1" height="52" fill="#c0c0c0"/>
<rect x="948" y="665" width="1" height="53" fill="#c0c0c0"/>
<rect x="956" y="665" width="1" height="53" fill="#c0c0c0"/>
<rect x="964" y="663" width="1" height="55" fill="#c0c0c0"/>
<rect x="972" y="658" width="1" height="60" fill="#c0c0c0"/>
<rect x="980" y="649" width="1" height="69" fill="#c0c0c0"/>
<rect x="988" y="638" width="1" height="80" fill="#c0c0c0"/>
<rect x="996" y="632" width="1" height="86" fill="#c0c0c0"/>
<rect x="1004" y="630" width="1" height="88" fill="#c0c0c0"/>
<rect x="1012" y="629" width="1" height="89" fill="#c0c0c0"/>
<rect x="1020" y="629" width="1" height="89" fill="#c0c0c0"/>
<rect x="1028" y="630" width="1" height="88" fill="#c0c0c0"/>
<rect x="1036" y="631" width="1" height="87" fill="#c0c0c0"/>
<rect x="1044" y="637" width="1" height="81" fill="#c0c0c0"/>
<rect x="1052" y="640" width="1" height="78" fill="#c0c0c0"/>
<rect x="1060" y="643" width="1" height="75" fill="#c0c0c0"/>
<rect x="1068" y="645" width="1" height="73" fill="#c0c0c0"/>
<rect x="1076" y="641" width="1" height="77" fill="#c0c0c0"/>
<rect x="1084" y="642" width="1" height="76" fill="#c0c0c0"/>
<rect x="1092" y="646" width="1" height="72" fill="#c0c0c0"/>
<rect x="1100" y="649" width="1" height="69" fill="#c0c0c0"/>
<rect x="1108" y="656" width="1" height="62" fill="#c0c0c0"/>
<rect x="1116" y="663" width="1" height="55" fill="#c0c0c0"/>
<rect x="1124" y="669" width="1" height="49" fill="#c0c0c0"/>
<rect x="1132" y="673" width="1" height="45" fill="#c0c0c0"/>
<rect x="1140" y="671" width="1" height="47" fill="#c0c0c0"/>
<rect x="1148" y="669" width="1" height="49" fill="#c0c0c0"/>
<rect x="1156" y="665" width="1" height="53" fill="#c0c0c0"/>
<rect x="1164" y="660" width="1" height="58" fill="#c0c0c0"/>
<rect x="1172" y="656" width="1" height="62" fill="#c0c0c0"/>
<rect x="1180" y="653" width="1" height="65" fill="#c0c0c0"/>
<rect x="1188" y="654" width="1" height="64" fill="#c0c0c0"/>
<rect x="1196" y="654" width="1" height="64" fill="#c0c0c0"/>
<rect x="1204" y="652" width="1" height="66" fill="#c0c0c0"/>
<rect x="1212" y="651" width="1" height="67" fill="#c0c0c0"/>
<rect x="1220" y="651" width="1" height="67" fill="#c0c0c0"/>
<rect x="1228" y="653" width="1" height="65" fill="#c0c0c0"/>
<rect x="1236" y="653" width="1" height="65" fill="#c0c0c0"/>
<rect x="1244" y="651" width="1" height="67" fill="#c0c0c0"/>
<rect x="1252" y="648" width="1" height="70" fill="#c0c0c0"/>
<rect x="1260" y="637" width="1" height="81" fill="#c0c0c0"/>
<rect x="1268" y="628" width="1" height="90" fill="#c0c0c0"/>
<rect x="1276" y="620" width="1" height="98" fill="#c0c0c0"/>
<rect x="1284" y="610" width="1" height="108" fill="#c0c0c0"/>
<rect x="1292" y="600" width="1" height="118" fill="#c0c0c0"/>
<rect x="1300" y="588" width="1" height="130" fill="#c0c0c0"/>
<rect x="1308" y="592" width="1" height="126" fill="#c0c0c0"/>
<rect x="1316" y="593" width="1" height="125" fill="#c0c0c0"/>
<rect x="1324" y="604" width="1" height="114" fill="#c0c0c0"/>
<rect x="1332" y="616" width="1" height="102" fill="#c0c0c0"/>
<rect x="1340" y="632" width="1" height="86" fill="#c0c0c0"/>
<rect x="1348" y="635" width="1" height="83" fill="#c0c0c0"/>
<rect x="1356" y="637" width="1" height="81" fill="#c0c0c0"/>
<rect x="1364" y="641" width="1" height="77" fill="#c0c0c0"/>
<rect x="1372" y="644" width="1" height="74" fill="#c0c0c0"/>
<rect x="1380" y="646" width="1" height="72" fill="#c0c0c0"/>
<rect x="1388" y="648" width="1" height="70" fill="#c0c0c0"/>
<rect x="1396" y="650" width="1" height="68" fill="#c0c0c0"/>
<rect x="1404" y="653" width="1" height="65" fill="#c0c0c0"/>
<rect x="1412" y="658" width="1" height="60" fill="#c0c0c0"/>
<rect x="1420" y="661" width="1" height="57" fill="#c0c0c0"/>
<rect x="1428" y="660" width="1" height="58" fill="#c0c0c0"/>
<rect x="1436" y="659" width="1" height="59" fill="#c0c0c0"/>
<polyline points="0.0,676.5 12.5,667.8 25.0,657.8 37.5,649.0 50.0,640.3 60.0,632.0 70.0,627.0 80.0,624.8 95.0,623.5 110.0,623.5 120.0,626.5 130.0,629.0 140.0,632.0 155.0,634.0 170.0,636.0 180.0,639.5 195.0,642.8 210.0,646.5 225.0,651.0 240.0,654.5 255.0,655.5 275.0,656.3 292.5,656.3 305.0,654.5 315.0,652.8 325.0,648.5 337.5,641.5 350.0,633.5 362.5,626.0 372.5,619.0 380.0,616.0 395.0,614.0 410.0,613.5 424.0,613.4 436.5,611.5 461.5,611.5 481.5,614.0 501.5,614.0 516.5,611.0 529.0,605.3 541.5,599.0 551.5,594.5 566.5,593.3 576.5,597.8 586.5,605.3 596.5,617.0 606.5,630.3 616.5,645.3 626.5,661.5 639.0,677.8 649.0,691.5 659.0,702.8 669.0,712.8 679.0,718.5 689.0,722.8 699.0,723.5 709.0,724.5 719.0,721.5 729.0,717.8 739.0,711.5 749.0,706.5 759.0,703.5 771.5,699.0 784.0,697.0 799.0,693.5 809.0,691.5 821.5,686.5 834.0,681.0 848.0,674.0 860.5,667.8 875.5,662.3 890.5,660.5 910.5,660.5 928.0,663.0 948.0,664.3 963.0,664.3 973.0,663.3 988.0,659.5 1000.5,652.8 1013.0,646.5 1025.5,640.3 1038.0,634.5 1050.5,632.3 1063.0,633.5 1083.0,636.5 1098.0,640.3 1113.0,645.3 1125.5,650.3 1138.0,656.0 1153.0,660.8 1165.5,664.0 1175.5,664.0 1195.5,661.5 1208.0,657.3 1223.0,654.0 1236.0,652.8 1248.5,651.5 1263.5,648.5 1276.0,642.0 1288.5,635.3 1298.5,627.8 1308.5,619.0 1318.5,611.0 1328.5,606.0 1343.5,605.3 1356.0,609.0 1366.0,615.3 1376.0,622.8 1388.5,631.5 1401.0,638.5 1413.5,644.0 1426.0,648.5 1436.0,650.3" fill="none" stroke="#ff0000" stroke-width="1" stroke-dasharray="3 3"/>
</g>
<g shape-rendering="crispEdges">
<line x1="0" y1="782.5" x2="1647" y2="782.5" stroke="#c0c0c0" stroke-width="1" stroke-dasharray="3 3"/>
<line x1="0" y1="833.5" x2="1647" y2="833.5" stroke="#c0c0c0" stroke-width="1" stroke-dasharray="3 3"/>
<line x1="0" y1="894.5" x2="1647" y2="894.5" stroke="#c0c0c0" stroke-width="1" stroke-dasharray="3 3"/>
<polyline points="0.0,775.5 12.5,770.3 20.5,777.3 28.5,774.3 36.5,774.3 44.5,771.3 52.5,771.3 60.0,770.3 68.0,794.0 76.5,798.0 84.5,792.3 91.5,790.5 100.0,789.5 108.5,795.3 115.5,791.3 124.5,800.3 132.5,793.0 140.5,791.3 148.5,786.5 156.5,796.3 164.5,798.0 172.5,799.8 180.5,812.3 188.5,805.5 196.5,814.3 204.5,805.3 212.5,803.0 220.5,798.5 228.5,795.3 236.5,798.5 244.5,795.3 252.5,799.3 260.5,799.3 268.5,801.5 276.5,802.5 284.5,793.5 292.5,790.5 300.5,783.5 308.5,775.3 316.5,772.3 324.5,778.5 332.5,777.3 340.5,771.3 348.5,784.0 356.5,786.5 364.5,798.0 372.5,794.5 380.5,793.0 388.5,793.0 396.5,791.3 404.5,784.3 412.5,787.3 420.5,779.8 428.5,777.3 436.5,777.3 444.5,810.5 452.5,807.3 460.5,810.5 468.5,803.5 476.5,801.5 484.5,798.5 492.5,787.8 500.5,779.3 508.5,778.0 516.5,802.3 524.5,796.5 532.5,802.5 540.5,812.3 548.5,807.3 556.5,807.3 564.5,829.3 572.5,824.3 580.5,820.0 588.5,844.5 596.5,841.3 604.5,843.5 612.5,839.3 620.5,841.3 628.5,837.3 636.5,832.3 644.5,843.3 652.5,843.3 660.5,847.3 668.5,840.3 676.5,840.3 684.5,823.3 692.5,823.3 700.5,827.3 708.5,824.3 716.5,824.3 724.5,824.3 732.5,822.3 740.5,824.5 748.5,821.3 756.5,823.5 764.5,822.3 772.5,821.0 780.5,831.3 788.5,820.3 796.5,820.3 804.5,807.0 812.5,805.3 820.5,804.3 828.5,802.3 836.5,799.3 842.0,799.3 848.0,803.5 852.5,807.3 860.5,805.3 868.5,808.3 876.5,809.5 884.5,808.3 892.5,803.5 900.5,810.5 908.5,806.3 916.5,802.3 924.5,810.5 932.5,807.3 940.5,803.3 948.5,799.3 956.5,798.3 964.5,797.3 972.5,786.0 980.5,780.3 988.5,775.3 996.5,783.3 1004.5,790.5 1012.5,789.3 1020.5,792.5 1028.5,791.3 1036.5,793.3 1044.5,806.5 1052.5,804.5 1060.5,801.3 1068.5,799.3 1076.5,788.5 1084.5,799.3 1092.5,813.3 1100.5,809.3 1108.5,822.5 1116.5,827.5 1124.5,824.5 1132.5,823.3 1140.5,808.3 1148.5,807.0 1156.5,802.3 1164.5,798.3 1172.5,796.5 1180.5,796.5 1188.5,804.5 1196.5,803.3 1204.5,797.3 1212.5,795.3 1220.5,797.3 1228.5,803.5 1236.5,797.3 1244.5,793.3 1252.5,789.3 1260.5,777.3 1268.5,776.3 1276.5,774.3 1284.5,771.3 1292.5,769.3 1300.5,765.0 1308.5,804.3 1316.5,799.3 1324.5,820.3 1332.5,823.5 1340.5,824.5 1348.5,819.3 1356.5,813.5 1364.5,821.3 1372.5,817.3 1380.5,811.3 1388.5,819.3 1396.5,816.0 1404.5,817.3 1412.5,827.5 1420.5,822.3 1428.5,813.5 1436.5,814.8" fill="none" stroke="#1e90ff" stroke-width="1" />
</g>
<g stroke="#ff0000" fill="#ff0000" stroke-linejoin="miter"><line x1="1081" y1="230" x2="1297" y2="56" stroke-width="3.4"/><polygon points="1297,56 1287,59.5 1292.5,65" stroke-width="1.6"/></g>
<g stroke="#ff0000" fill="#ff0000" stroke-linejoin="miter"><line x1="1302" y1="56" x2="1326.3" y2="118.3" stroke-width="3.4"/><polygon points="1326.3,118.3 1319,110.5 1327.3,106.5" stroke-width="1.6"/></g>
<g stroke="#ff0000" fill="#ff0000" stroke-linejoin="miter"><line x1="1326.3" y1="118.3" x2="1484.3" y2="58.6" stroke-width="3.4"/><polygon points="1484.3,58.6 1473,58 1476,66.3" stroke-width="1.6"/></g>
<g stroke="#ff0000" stroke-width="3" fill="#ff0000">
<line x1="1333.5" y1="628" x2="1436" y2="660"/>
<polygon points="1443,662 1431.5,663 1435,654.5" stroke-width="0.6"/>
<line x1="1335" y1="816.5" x2="1436" y2="815.7"/>
<polygon points="1444,815.5 1433,820 1433,811" stroke-width="0.6"/>
</g>
<g shape-rendering="crispEdges" fill="#ff0000">
<rect x="499" y="222" width="10" height="1"/>
<rect x="651" y="378" width="10" height="1"/>
<rect x="1291" y="47" width="10" height="1"/>
<rect x="1125" y="102" width="10" height="1"/>
</g>
<rect x="437.5" y="213.5" width="61" height="18" fill="#fff" stroke="#ff0000" stroke-width="1" shape-rendering="crispEdges"/>
<text x="439.1" y="228.7" font-family="Liberation Sans, Arial, sans-serif" font-size="17" fill="#ff0000" textLength="58" lengthAdjust="spacingAndGlyphs">125.085</text>
<rect x="589.5" y="369.5" width="61" height="18" fill="#fff" stroke="#ff0000" stroke-width="1" shape-rendering="crispEdges"/>
<text x="591.1" y="384.7" font-family="Liberation Sans, Arial, sans-serif" font-size="17" fill="#ff0000" textLength="58" lengthAdjust="spacingAndGlyphs">121.249</text>
<rect x="1229.5" y="38.5" width="61" height="18" fill="#fff" stroke="#ff0000" stroke-width="1" shape-rendering="crispEdges"/>
<text x="1231.1" y="53.7" font-family="Liberation Sans, Arial, sans-serif" font-size="17" fill="#ff0000" textLength="58" lengthAdjust="spacingAndGlyphs">129.386</text>
<rect x="1135.5" y="90.5" width="73" height="24" fill="#fff" stroke="#ff0000" stroke-width="1" shape-rendering="crispEdges"/>
<text x="1136.4" y="111" font-family="Liberation Sans, Arial, sans-serif" font-size="22.2" fill="#ff0000" textLength="71.5" lengthAdjust="spacingAndGlyphs">128.025</text>
<rect x="644" y="369" width="1" height="7" fill="#000" shape-rendering="crispEdges"/>
<rect x="1642.5" y="50.5" width="4" height="4" fill="#fff" stroke="#ff0000" shape-rendering="crispEdges"/>
<polygon points="1441,20 1452,20 1446.5,25.5" fill="#c0c0c0"/>
<g shape-rendering="crispEdges" fill="#000"><rect x="70" y="114" width="1" height="1"/><rect x="69" y="115" width="1" height="1"/><rect x="71" y="115" width="1" height="1"/><rect x="70" y="116" width="1" height="1"/></g>
<g shape-rendering="crispEdges" fill="#000">
<rect x="0" y="19" width="1648" height="1"/>
<rect x="0" y="572" width="1648" height="1"/>
<rect x="0" y="574" width="1648" height="1"/>
<rect x="0" y="744" width="1648" height="1"/>
<rect x="0" y="746" width="1648" height="1"/>
<rect x="0" y="920" width="1648" height="1"/>
<rect x="1647" y="19" width="1" height="902"/>
<rect x="52" y="920" width="1" height="4"/>
<rect x="116" y="920" width="1" height="4"/>
<rect x="180" y="920" width="1" height="4"/>
<rect x="244" y="920" width="1" height="4"/>
<rect x="308" y="920" width="1" height="4"/>
<rect x="372" y="920" width="1" height="4"/>
<rect x="436" y="920" width="1" height="4"/>
<rect x="500" y="920" width="1" height="4"/>
<rect x="564" y="920" width="1" height="4"/>
<rect x="628" y="920" width="1" height="4"/>
<rect x="692" y="920" width="1" height="4"/>
<rect x="756" y="920" width="1" height="4"/>
<rect x="820" y="920" width="1" height="4"/>
<rect x="884" y="920" width="1" height="4"/>
<rect x="948" y="920" width="1" height="4"/>
<rect x="1012" y="920" width="1" height="4"/>
<rect x="1076" y="920" width="1" height="4"/>
<rect x="1140" y="920" width="1" height="4"/>
<rect x="1204" y="920" width="1" height="4"/>
<rect x="1268" y="920" width="1" height="4"/>
<rect x="1332" y="920" width="1" height="4"/>
<rect x="1396" y="920" width="1" height="4"/>
</g>
<g font-family="Liberation Sans, Arial, sans-serif" font-size="9.6" fill="#000">
<rect x="1648" y="41" width="2" height="1" shape-rendering="crispEdges"/>
<text x="1653.3" y="45" textLength="32" lengthAdjust="spacingAndGlyphs">129.530</text>
<rect x="1648" y="74" width="2" height="1" shape-rendering="crispEdges"/>
<text x="1653.3" y="78" textLength="32" lengthAdjust="spacingAndGlyphs">128.710</text>
<rect x="1648" y="107" width="2" height="1" shape-rendering="crispEdges"/>
<text x="1653.3" y="111" textLength="32" lengthAdjust="spacingAndGlyphs">127.910</text>
<rect x="1648" y="140" width="2" height="1" shape-rendering="crispEdges"/>
<text x="1653.3" y="144" textLength="32" lengthAdjust="spacingAndGlyphs">127.090</text>
<rect x="1648" y="173" width="2" height="1" shape-rendering="crispEdges"/>
<text x="1653.3" y="177" textLength="32" lengthAdjust="spacingAndGlyphs">126.290</text>
<rect x="1648" y="206" width="2" height="1" shape-rendering="crispEdges"/>
<text x="1653.3" y="210" textLength="32" lengthAdjust="spacingAndGlyphs">125.470</text>
<rect x="1648" y="239" width="2" height="1" shape-rendering="crispEdges"/>
<text x="1653.3" y="243" textLength="32" lengthAdjust="spacingAndGlyphs">124.650</text>
<rect x="1648" y="272" width="2" height="1" shape-rendering="crispEdges"/>
<text x="1653.3" y="276" textLength="32" lengthAdjust="spacingAndGlyphs">123.850</text>
<rect x="1648" y="305" width="2" height="1" shape-rendering="crispEdges"/>
<text x="1653.3" y="309" textLength="32" lengthAdjust="spacingAndGlyphs">123.030</text>
<rect x="1648" y="338" width="2" height="1" shape-rendering="crispEdges"/>
<text x="1653.3" y="342" textLength="32" lengthAdjust="spacingAndGlyphs">122.230</text>
<rect x="1648" y="371" width="2" height="1" shape-rendering="crispEdges"/>
<text x="1653.3" y="375" textLength="32" lengthAdjust="spacingAndGlyphs">121.410</text>
<rect x="1648" y="404" width="2" height="1" shape-rendering="crispEdges"/>
<text x="1653.3" y="408" textLength="32" lengthAdjust="spacingAndGlyphs">120.610</text>
<rect x="1648" y="437" width="2" height="1" shape-rendering="crispEdges"/>
<text x="1653.3" y="441" textLength="32" lengthAdjust="spacingAndGlyphs">119.790</text>
<rect x="1648" y="470" width="2" height="1" shape-rendering="crispEdges"/>
<text x="1653.3" y="474" textLength="32" lengthAdjust="spacingAndGlyphs">118.990</text>
<rect x="1648" y="503" width="2" height="1" shape-rendering="crispEdges"/>
<text x="1653.3" y="507" textLength="32" lengthAdjust="spacingAndGlyphs">118.170</text>
<rect x="1648" y="536" width="2" height="1" shape-rendering="crispEdges"/>
<text x="1653.3" y="540" textLength="32" lengthAdjust="spacingAndGlyphs">117.370</text>
<rect x="1648" y="569" width="2" height="1" shape-rendering="crispEdges"/>
<text x="1653.3" y="573" textLength="32" lengthAdjust="spacingAndGlyphs">116.550</text>
<rect x="1648" y="576" width="1" height="1" shape-rendering="crispEdges"/>
<text x="1651" y="585" textLength="27.8" lengthAdjust="spacingAndGlyphs">0.9337</text>
<rect x="1648" y="717" width="1" height="1" shape-rendering="crispEdges"/>
<text x="1651" y="721" textLength="17.7" lengthAdjust="spacingAndGlyphs">0.00</text>
<rect x="1648" y="743" width="1" height="1" shape-rendering="crispEdges"/>
<text x="1651" y="741" textLength="31" lengthAdjust="spacingAndGlyphs">-0.1744</text>
<rect x="1648" y="748" width="1" height="1" shape-rendering="crispEdges"/>
<text x="1651" y="757" textLength="14.5" lengthAdjust="spacingAndGlyphs">100</text>
<text x="1651" y="786" textLength="9.2" lengthAdjust="spacingAndGlyphs">80</text>
<text x="1651" y="837" textLength="9.2" lengthAdjust="spacingAndGlyphs">50</text>
<text x="1651" y="898" textLength="9.2" lengthAdjust="spacingAndGlyphs">15</text>
<rect x="1648" y="919" width="1" height="1" shape-rendering="crispEdges"/>
<text x="1651" y="917" textLength="4.6" lengthAdjust="spacingAndGlyphs">0</text>
</g>
<rect x="1649" y="21" width="41" height="11" fill="#ff0000" shape-rendering="crispEdges"/>
<text x="1653.3" y="30" font-family="Liberation Sans, Arial, sans-serif" font-size="9.6" fill="#fff" textLength="32" lengthAdjust="spacingAndGlyphs">129.860</text>
<rect x="1649" y="46" width="41" height="11" fill="#ff0000" shape-rendering="crispEdges"/>
<text x="1653.3" y="55" font-family="Liberation Sans, Arial, sans-serif" font-size="9.6" fill="#fff" textLength="32" lengthAdjust="spacingAndGlyphs">129.245</text>
<rect x="1649" y="75" width="41" height="11" fill="#000000" shape-rendering="crispEdges"/>
<text x="1653.3" y="84" font-family="Liberation Sans, Arial, sans-serif" font-size="9.6" fill="#fff" textLength="32" lengthAdjust="spacingAndGlyphs">128.578</text>
<rect x="1649" y="96" width="41" height="11" fill="#32cd32" shape-rendering="crispEdges"/>
<text x="1653.3" y="105" font-family="Liberation Sans, Arial, sans-serif" font-size="9.6" fill="#fff" textLength="32" lengthAdjust="spacingAndGlyphs">128.025</text>
<rect x="1649" y="130" width="41" height="11" fill="#0000ff" shape-rendering="crispEdges"/>
<text x="1653.3" y="139" font-family="Liberation Sans, Arial, sans-serif" font-size="9.6" fill="#fff" textLength="32" lengthAdjust="spacingAndGlyphs">127.186</text>
<rect x="1649" y="165" width="41" height="11" fill="#0000ff" shape-rendering="crispEdges"/>
<text x="1653.3" y="174" font-family="Liberation Sans, Arial, sans-serif" font-size="9.6" fill="#fff" textLength="32" lengthAdjust="spacingAndGlyphs">126.321</text>
<text x="3.8" y="31" font-family="Liberation Sans, Arial, sans-serif" font-size="9.6" fill="#000" textLength="200" lengthAdjust="spacingAndGlyphs" xml:space="preserve">USDJPY-,H4  128.781 128.923 128.428 128.578</text>
<text x="-7.5" y="587.2" font-family="Liberation Sans, Arial, sans-serif" font-size="9.6" fill="#000" textLength="127.5" lengthAdjust="spacingAndGlyphs">MACD(12,26,9) 0.3846 0.4339</text>
<text x="-7.5" y="759.2" font-family="Liberation Sans, Arial, sans-serif" font-size="9.6" fill="#000" textLength="67.5" lengthAdjust="spacingAndGlyphs">RSI(14) 58.9403</text>
<g font-family="Liberation Sans, Arial, sans-serif" font-size="9.6" fill="#000">
<text x="-13" y="933" textLength="51.3" lengthAdjust="spacingAndGlyphs">13 Mar 2022</text>
<text x="51" y="933" textLength="54.5" lengthAdjust="spacingAndGlyphs">14 Mar 20:00</text>
<text x="115" y="933" textLength="54.5" lengthAdjust="spacingAndGlyphs">16 Mar 04:00</text>
<text x="179" y="933" textLength="54.5" lengthAdjust="spacingAndGlyphs">17 Mar 12:00</text>
<text x="243" y="933" textLength="54.5" lengthAdjust="spacingAndGlyphs">20 Mar 23:00</text>
<text x="307" y="933" textLength="54.5" lengthAdjust="spacingAndGlyphs">22 Mar 04:00</text>
<text x="371" y="933" textLength="54.5" lengthAdjust="spacingAndGlyphs">23 Mar 12:00</text>
<text x="435" y="933" textLength="54.5" lengthAdjust="spacingAndGlyphs">24 Mar 20:00</text>
<text x="499" y="933" textLength="54.5" lengthAdjust="spacingAndGlyphs">28 Mar 04:00</text>
<text x="563" y="933" textLength="54.5" lengthAdjust="spacingAndGlyphs">29 Mar 12:00</text>
<text x="627" y="933" textLength="54.5" lengthAdjust="spacingAndGlyphs">30 Mar 20:00</text>
<text x="691" y="933">1 Apr 04:00</text>
<text x="755" y="933">4 Apr 12:00</text>
<text x="819" y="933">5 Apr 20:00</text>
<text x="883" y="933">7 Apr 04:00</text>
<text x="947" y="933">8 Apr 12:00</text>
<text x="1011" y="933">11 Apr 20:00</text>
<text x="1075" y="933">13 Apr 04:00</text>
<text x="1139" y="933">14 Apr 12:00</text>
<text x="1203" y="933">17 Apr 23:00</text>
<text x="1267" y="933">19 Apr 04:00</text>
<text x="1331" y="933">20 Apr 12:00</text>
<text x="1395" y="933">21 Apr 20:00</text>
</g>
<g shape-rendering="crispEdges">
<rect x="1693" y="17" width="1" height="925" fill="#d4d4d4"/>
<rect x="0" y="941" width="1694" height="1" fill="#dcdcdc"/>
<rect x="0" y="943" width="414" height="1" fill="#000"/>
<rect x="504" y="943" width="1191" height="1" fill="#000"/>
</g>
</svg>
<div id="panel" style="position:absolute;left:0;top:39px;width:212px;height:57px;background:#fff;">
  <div style="position:absolute;left:0;top:0;width:43px;height:24px;background:linear-gradient(#5454f2,#3a3ae0);"></div>
  <div style="position:absolute;left:158px;top:0;width:52px;height:24px;background:linear-gradient(#5454f2,#3a3ae0);"></div>
  <div style="position:absolute;left:0;top:24px;width:100px;height:33px;background:linear-gradient(#3a3ae0,#0808b4);"></div>
  <div style="position:absolute;left:102px;top:24px;width:108px;height:33px;background:linear-gradient(#3a3ae0,#0808b4);"></div>
  <div style="position:absolute;left:0;top:23px;width:39px;height:1px;background:#8c8cf6;"></div>
  <div style="position:absolute;left:162px;top:23px;width:44px;height:1px;background:#8c8cf6;"></div>
  <div style="position:absolute;left:45px;top:0;width:111px;height:21px;box-sizing:border-box;border:1px solid #b4b4b4;background:#fff;"></div>
  <div style="position:absolute;left:47px;top:2px;width:19px;height:18px;background:linear-gradient(#eeeeee 45%,#cfcfcf 55%,#d8d8d8);border-right:1px solid #b4b4b4;box-sizing:border-box;"></div>
  <div style="position:absolute;left:135px;top:2px;width:20px;height:18px;background:linear-gradient(#eeeeee 45%,#cfcfcf 55%,#d8d8d8);border-left:1px solid #b4b4b4;box-sizing:border-box;"></div>
  <svg style="position:absolute;left:0;top:0" width="210" height="57"><polygon points="53.5,9.5 58.5,9.5 56,12.5" fill="#4c64c8"/><polygon points="142,12.5 147.5,12.5 144.7,9.3" fill="#4c64c8"/></svg>
  <span style="position:absolute;left:3.5px;top:5px;font-size:11.5px;line-height:14px;color:#fff;letter-spacing:-0.5px;">SELL</span>
  <span style="position:absolute;left:171px;top:5px;font-size:11.5px;line-height:14px;color:#fff;letter-spacing:-0.2px;">BUY</span>
  <span style="position:absolute;left:100px;width:30.5px;text-align:right;top:4px;font-size:12px;line-height:14px;color:#000;">1.00</span>
  <span style="position:absolute;left:14px;top:41px;font-size:12px;line-height:14px;font-weight:bold;color:#fff;">128</span>
  <span style="position:absolute;left:39.5px;top:22px;font-size:33px;line-height:36px;color:#fff;letter-spacing:-2px;-webkit-text-stroke:0.7px #2424cc;">57</span>
  <span style="position:absolute;left:78px;top:26px;font-size:11px;line-height:12px;font-weight:bold;color:#fff;">8</span>
  <span style="position:absolute;left:124.5px;top:41px;font-size:12px;line-height:14px;font-weight:bold;color:#fff;">128</span>
  <span style="position:absolute;left:150.5px;top:22px;font-size:33px;line-height:36px;color:#fff;letter-spacing:-2px;-webkit-text-stroke:0.7px #2424cc;">59</span>
  <span style="position:absolute;left:189px;top:26px;font-size:11px;line-height:12px;font-weight:bold;color:#fff;">7</span>
</div>

<div id="tb"><svg width="1695" height="15" viewBox="0 0 1695 15" style="position:absolute;left:0;top:0">
<g shape-rendering="crispEdges">
<rect x="0" y="9" width="1" height="3" fill="#e8a020"/>
<rect x="8" y="0" width="1" height="12" fill="#a0a0a0"/>
<!-- new order -->
<rect x="19.5" y="-2.5" width="9" height="10" fill="#fff" stroke="#707070"/>
<rect x="26" y="-1" width="4" height="14" fill="#1a7a1a"/><rect x="22" y="4" width="12" height="4" fill="#1a7a1a"/>
<rect x="27" y="-1" width="2" height="13" fill="#2cc42c"/><rect x="23" y="5" width="10" height="2" fill="#2cc42c"/>
<rect x="21" y="0" width="4" height="1" fill="#909090"/><rect x="21" y="2" width="4" height="1" fill="#909090"/>
</g>
<text x="36.500" y="5.5" font-family="Liberation Sans, Noto Sans CJK SC, sans-serif" font-size="12.500" fill="#000">新订单</text>
<!-- book -->
<polygon points="85,3 93,-3 101,2 93,10" fill="#e6a832" stroke="#8a5a10" stroke-width="1"/>
<polygon points="86,5 93,11 101,4 101,2 93,9 86,3" fill="#c08020"/>
<!-- cloud -->
<rect x="116" y="-2" width="10" height="5" fill="#3a78c8"/>
<path d="M114 10 h14 a3 3 0 0 0 0 -6 a4 4 0 0 0 -7 -1 a3.500 3.500 0 0 0 -7 2 a2.500 2.500 0 0 0 0 5z" fill="#cfe2f6" stroke="#7a9cc8" stroke-width="1"/>
<!-- signal -->
<path d="M143 -1 a8 8 0 0 0 5 10" fill="none" stroke="#6a9ad8" stroke-width="2"/>
<path d="M155 -1 a8 8 0 0 1 -5 10" fill="none" stroke="#58a858" stroke-width="2.500"/>
<path d="M146 -1 a5 5 0 0 0 3 6" fill="none" stroke="#88b0e0" stroke-width="1.500"/>
<!-- auto trading -->
<path d="M168 1 h14 l-4 8 h-6z" fill="#e8c040" stroke="#a08020" stroke-width="1"/>
<rect x="170" y="-2" width="10" height="4" fill="#5a9ae0"/>
<circle cx="181" cy="6" r="3.600" fill="#e02020"/><rect x="179.500" y="4.500" width="3" height="3" fill="#fff"/>
<text x="188.500" y="5.500" font-family="Liberation Sans, Noto Sans CJK SC, sans-serif" font-size="12.500" fill="#000">自动交易</text>
<g shape-rendering="crispEdges">
<!-- grip -->
<g fill="#b0b0b0"><rect x="248" y="1" width="2" height="1"/><rect x="248" y="3" width="2" height="1"/><rect x="248" y="5" width="2" height="1"/><rect x="248" y="7" width="2" height="1"/><rect x="248" y="9" width="2" height="1"/><rect x="248" y="11" width="2" height="1"/></g>
<!-- bar chart icon -->
<g fill="#303030"><rect x="266" y="-2" width="1" height="13"/><rect x="261" y="8" width="14" height="1"/><rect x="272" y="6" width="1" height="5"/></g>
<rect x="267" y="-2" width="2" height="4" fill="#2a9a2a"/>
<!-- candle icon pressed -->
<rect x="283" y="-2" width="24" height="14" fill="#fafafa" stroke="#c8c8c8"/>
<g fill="#303030"><rect x="294" y="-2" width="1" height="13"/><rect x="288" y="8" width="15" height="1"/><rect x="300" y="6" width="1" height="5"/></g>
<rect x="292" y="-2" width="5" height="4" fill="#2a9a2a"/>
</g>
<!-- line chart icon -->
<g stroke="#303030" stroke-width="1" fill="none"><path d="M320.500 -2 V11 M316 8.500 H331 M327.500 6 V11"/><path d="M321 4 L326 -2 L331 3" stroke="#2a7a2a"/></g>
<g shape-rendering="crispEdges" fill="#a8a8a8"><rect x="339" y="0" width="1" height="12"/></g>
<!-- zoom in / out -->
<g>
<line x1="358" y1="5" x2="365" y2="11" stroke="#d8a030" stroke-width="3" stroke-linecap="round"/>
<circle cx="354" cy="0" r="5.500" fill="#c8e0f8" stroke="#4a88d0" stroke-width="2"/>
<line x1="386" y1="5" x2="393" y2="11" stroke="#d8a030" stroke-width="3" stroke-linecap="round"/>
<circle cx="382" cy="0" r="5.500" fill="#c8e0f8" stroke="#4a88d0" stroke-width="2"/>
</g>
<g shape-rendering="crispEdges">
<!-- tiles -->
<rect x="404" y="-1" width="7" height="5" fill="#3a68c8"/><rect x="413" y="-1" width="7" height="5" fill="#48a848"/>
<rect x="404" y="5" width="7" height="5" fill="#3a68c8"/><rect x="413" y="5" width="7" height="5" fill="#48a848"/>
<rect x="406" y="7" width="3" height="1" fill="#fff"/><rect x="415" y="7" width="3" height="1" fill="#fff"/>
<rect x="429" y="0" width="1" height="12" fill="#a8a8a8"/><rect x="434" y="0" width="1" height="12" fill="#d0d0d0"/>
<!-- chart shift -->
<g fill="#303030"><rect x="444" y="-2" width="1" height="13"/><rect x="440" y="8" width="15" height="1"/><rect x="452" y="7" width="1" height="4"/></g>
<rect x="462" y="0" width="1" height="12" fill="#c8c8c8"/>
<g fill="#303030"><rect x="472" y="-2" width="1" height="13"/><rect x="468" y="8" width="15" height="1"/><rect x="480" y="7" width="1" height="4"/></g>
<rect x="491" y="0" width="1" height="12" fill="#a8a8a8"/>
<!-- indicator plus -->
<rect x="501.500" y="-2.500" width="8" height="8" fill="#fff" stroke="#707070"/>
<rect x="508" y="-1" width="4" height="14" fill="#1a7a1a"/><rect x="504" y="4" width="12" height="4" fill="#1a7a1a"/>
<rect x="509" y="-1" width="2" height="13" fill="#2cc42c"/><rect x="505" y="5" width="10" height="2" fill="#2cc42c"/>
</g>
<polygon points="448,0 448,6 453,3" fill="#2a9a2a"/>
<polygon points="481,-1 476,2 481,5" fill="#d02020"/>
<polygon points="522,1.500 529,1.500 525.500,5" fill="#000"/>
<circle cx="547" cy="2" r="7" fill="#e8f0f8" stroke="#2a60b8" stroke-width="2.500"/>
<polygon points="560,1.500 567,1.500 563.500,5" fill="#000"/>
<rect x="578.500" y="-2.500" width="15" height="12" fill="#fff" stroke="#4a78c0" stroke-width="1"/>
<path d="M580 3 l4 -2 l4 2 l4 -3" stroke="#c03030" fill="none"/><path d="M580 7 l4 -1 l4 1 l4 -2" stroke="#30a030" fill="none"/>
<polygon points="600,1.500 607,1.500 603.500,5" fill="#000"/>
<g shape-rendering="crispEdges">
<g fill="#b0b0b0"><rect x="616" y="1" width="2" height="1"/><rect x="616" y="3" width="2" height="1"/><rect x="616" y="5" width="2" height="1"/><rect x="616" y="7" width="2" height="1"/><rect x="616" y="9" width="2" height="1"/><rect x="616" y="11" width="2" height="1"/></g>
<rect x="622" y="-2" width="25" height="14" fill="#fafafa" stroke="#d8d8d8"/>
<rect x="679" y="0" width="1" height="12" fill="#a8a8a8"/>
<g fill="#404040"><rect x="662" y="-2" width="1" height="9"/><rect x="655" y="3" width="15" height="1"/><rect x="696" y="-2" width="1" height="12"/><rect x="718" y="3" width="14" height="1"/></g>
</g>
<polygon points="629,-3 629,8 632,5.500 634.500,10 636.500,9 634,5 638,5" fill="#303030"/>
<line x1="746" y1="10" x2="758" y2="-1" stroke="#404040" stroke-width="1.200"/>
<g stroke="#404040" stroke-width="1" fill="none"><path d="M772 8 L784 -2 M776 10 L788 0 M774 4 h10"/></g>
<text x="784.5" y="11.5" font-family="Liberation Sans, sans-serif" font-size="7" font-weight="bold" fill="#303030">E</text>
<g stroke="#404040" stroke-width="1" stroke-dasharray="1 1" fill="none"><path d="M802 3.500 h13 M802 6.500 h11"/></g>
<text x="812.5" y="11.5" font-family="Liberation Sans, sans-serif" font-size="7" font-weight="bold" fill="#303030">F</text>
<text x="831.500" y="8" font-family="Liberation Sans, sans-serif" font-size="13" font-weight="bold" fill="#606060">A</text>
<rect x="858.500" y="-2.500" width="12" height="12" fill="none" stroke="#606060" stroke-dasharray="1 1"/>
<text x="860.500" y="8" font-family="Liberation Sans, sans-serif" font-size="12" font-weight="bold" fill="#505050">T</text>
<path d="M886 -1 l4 5 l3 -3 M892 7 l4 -3 l4 3 l-4 3z" stroke="#303030" fill="#303030" stroke-width="1.500"/>
<polygon points="906,1.500 913,1.500 909.500,5" fill="#000"/>
<g shape-rendering="crispEdges">
<g fill="#b0b0b0"><rect x="921" y="1" width="2" height="1"/><rect x="921" y="3" width="2" height="1"/><rect x="921" y="5" width="2" height="1"/><rect x="921" y="7" width="2" height="1"/><rect x="921" y="9" width="2" height="1"/><rect x="921" y="11" width="2" height="1"/></g>
<rect x="1068" y="-2" width="25" height="14" fill="#f8f8f8" stroke="#c8c8c8"/>
<rect x="1179" y="0" width="1" height="14" fill="#a8a8a8"/>
</g>
<g font-family="Liberation Sans, sans-serif" font-size="10" fill="#404040">
<text x="933" y="7">M1</text><text x="961" y="7">M5</text><text x="987" y="7">M15</text><text x="1015" y="7">M30</text><text x="1046" y="7">H1</text><text x="1073" y="7">H4</text><text x="1102" y="7">D1</text><text x="1130" y="7">W1</text><text x="1156" y="7">MN</text>
</g>
<!-- right icons -->
<line x1="1641.500" y1="7.500" x2="1646" y2="3" stroke="#2a60c0" stroke-width="2" stroke-linecap="round"/>
<circle cx="1650" cy="-1" r="4.500" fill="#e0ecf8" stroke="#2a60c0" stroke-width="1.500"/>
<path d="M1668 2 q0 6 6 6 l-3 3 l6 -3 h4 v-8" fill="#f4f4f4" stroke="#b0b0b0" stroke-width="1"/>
<circle cx="1680.500" cy="0" r="7.500" fill="#d83020"/>
<text x="1678" y="4" font-family="Liberation Sans, sans-serif" font-size="9" font-weight="bold" fill="#fff">1</text>
</svg>
</div><div id="tbl1"></div><div id="tbl2"></div>
</body></html>
